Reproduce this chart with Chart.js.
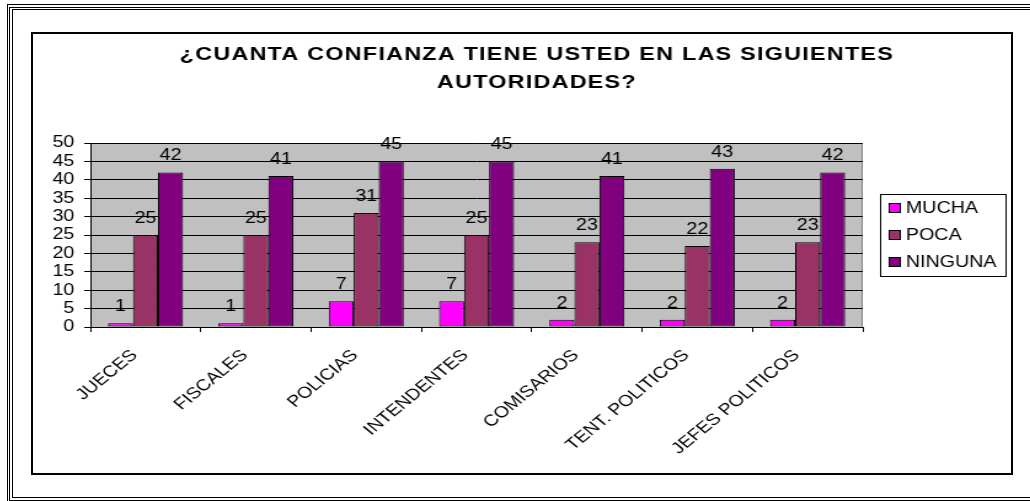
<!DOCTYPE html>
<html lang="es">
<head>
    <meta charset="UTF-8">
    <title>Confianza en autoridades</title>
    <style>
        body { margin: 0; background: #fff; overflow: hidden; width: 1030px; height: 501px; position: relative; }
        .line { position: absolute; box-sizing: border-box; border: 1px solid #000; }
        #frame { position: absolute; box-sizing: border-box; left: 31px; top: 32px; width: 982px; height: 443px; border: 2px solid #000; }
        #chart { position: absolute; left: 35px; top: 36px; transform: scaleX(1.23); transform-origin: 0 0; }
    </style>
</head>
<body>
    <div class="line" style="left:7px;top:4px;width:1040px;height:500px;"></div>
    <div class="line" style="left:9px;top:7px;width:1040px;height:494px;"></div>
    <div class="line" style="left:12px;top:9px;width:1040px;height:489px;"></div>
    <div id="frame"></div>
    <canvas id="chart" width="793" height="434"></canvas>

    <script src="https://cdn.jsdelivr.net/npm/chart.js"></script>
    <script>
        const titleLines = ['¿CUANTA CONFIANZA TIENE USTED EN LAS SIGUIENTES', 'AUTORIDADES?'];
        const categories = ['JUECES', 'FISCALES', 'POLICIAS', 'INTENDENTES', 'COMISARIOS', 'TENT. POLITICOS', 'JEFES POLITICOS'];
        const mucha = [1, 1, 7, 7, 2, 2, 2];
        const poca = [25, 25, 31, 25, 23, 22, 23];
        const ninguna = [42, 41, 45, 45, 41, 43, 42];
        const yTicks = [0, 5, 10, 15, 20, 25, 30, 35, 40, 45, 50];

        const font = { family: 'Liberation Sans, Arial, sans-serif', size: 16 };

        // gray plot background
        const plotBg = {
            id: 'plotBg',
            beforeDraw(chart) {
                const { ctx, chartArea: a } = chart;
                ctx.save();
                ctx.fillStyle = '#c0c0c0';
                ctx.fillRect(a.left, a.top, a.width, a.height);
                ctx.strokeStyle = '#808080';
                ctx.lineWidth = 1;
                ctx.strokeRect(a.left + 0.5, a.top + 0.5, a.width - 1, a.height);
                ctx.restore();
            }
        };

        // two line title, drawn by hand so it can sit off-centre like the original
        const titlePlugin = {
            id: 'titleText',
            afterDraw(chart) {
                const ctx = chart.ctx;
                ctx.save();
                ctx.font = 'bold 19px Liberation Sans, Arial, sans-serif';
                ctx.letterSpacing = '1px';
                ctx.fillStyle = '#000';
                ctx.textAlign = 'center';
                ctx.textBaseline = 'alphabetic';
                ctx.fillText(titleLines[0], 408, 24);
                ctx.fillText(titleLines[1], 408, 52);
                ctx.restore();
            }
        };

        // numbers above the bars
        const valueLabels = {
            id: 'valueLabels',
            afterDatasetsDraw(chart) {
                const ctx = chart.ctx;
                ctx.save();
                ctx.font = '16px Liberation Sans, Arial, sans-serif';
                ctx.fillStyle = '#000';
                ctx.textAlign = 'center';
                ctx.textBaseline = 'alphabetic';
                chart.data.datasets.forEach((ds, i) => {
                    chart.getDatasetMeta(i).data.forEach((bar, j) => {
                        ctx.fillText(ds.data[j], bar.x, bar.y - 12);
                    });
                });
                ctx.restore();
            }
        };

        // boxed legend on the right
        const boxLegend = {
            id: 'boxLegend',
            afterDraw(chart) {
                const { ctx, chartArea: a } = chart;
                const left = a.right + 14, w = 102, h = 82;
                const top = (a.top + a.bottom) / 2 - h / 2;
                ctx.save();
                ctx.strokeStyle = '#000';
                ctx.lineWidth = 1;
                ctx.strokeRect(left + 0.5, top + 0.5, w, h);
                ctx.font = '16px Liberation Sans, Arial, sans-serif';
                ctx.textBaseline = 'middle';
                chart.data.datasets.forEach((ds, i) => {
                    const cy = top + 14 + i * 27;
                    ctx.fillStyle = ds.backgroundColor;
                    ctx.fillRect(left + 7, cy - 5, 10, 10);
                    ctx.strokeRect(left + 7.5, cy - 4.5, 9, 9);
                    ctx.fillStyle = '#000';
                    ctx.fillText(ds.label, left + 21, cy + 1);
                });
                ctx.restore();
            }
        };

        const config = {
            type: 'bar',
            data: {
                labels: categories,
                datasets: [
                    { label: 'MUCHA', data: mucha, backgroundColor: '#ff00ff' },
                    { label: 'POCA', data: poca, backgroundColor: '#993366' },
                    { label: 'NINGUNA', data: ninguna, backgroundColor: '#800080' }
                ].map(d => Object.assign(d, {
                    borderColor: '#000', borderWidth: 1, borderSkipped: false,
                    categoryPercentage: 0.68, barPercentage: 1
                }))
            },
            options: {
                responsive: false,
                animation: false,
                devicePixelRatio: 1,
                layout: { padding: { top: 107, right: 120, left: 0, bottom: 0 } },
                plugins: { legend: { display: false }, title: { display: false }, tooltip: { enabled: false } },
                scales: {
                    x: {
                        afterFit(s) { s.height = 143; },
                        grid: { display: true, drawOnChartArea: false, color: '#000', tickLength: 5 },
                        border: { color: '#000', width: 1 },
                        ticks: { color: '#000', font: font, minRotation: 45, maxRotation: 45, padding: 14, labelOffset: -9, autoSkip: false }
                    },
                    y: {
                        min: 0, max: 50,
                        afterFit(s) { s.width = 45; },
                        afterBuildTicks(s) { s.ticks = yTicks.map(v => ({ value: v })); },
                        grid: { color: '#000', lineWidth: 1, tickLength: 5 },
                        border: { color: '#000', width: 1 },
                        ticks: { color: '#000', font: font, padding: 8, autoSkip: false }
                    }
                }
            },
            plugins: [plotBg, titlePlugin, valueLabels, boxLegend]
        };

        const chart = new Chart(document.getElementById('chart'), config);
    </script>
</body>
</html>
